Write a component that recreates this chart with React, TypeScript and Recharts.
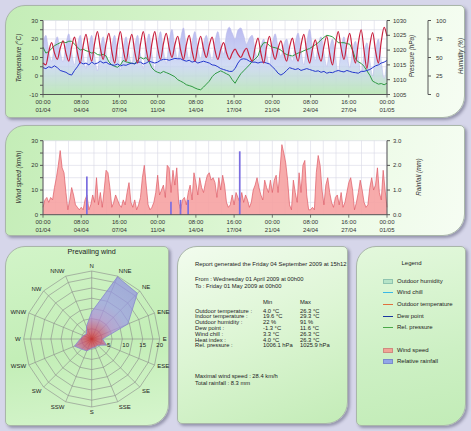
import { ComposedChart, Line, Area, Bar, XAxis, YAxis, CartesianGrid, RadarChart, Radar, PolarGrid, PolarAngleAxis, PolarRadiusAxis } from 'recharts'

const FONT = '"Liberation Sans", Arial, sans-serif'

// 6-hourly readings from 01/04 00:00 to 01/05 00:00 (one row per day: 00h, 06h, 12h, 18h)
const outdoorTemp = [
  7, 6, 13, 18,
  12.5, 9, 15, 19,
  12.4, 8, 15.8, 21,
  12.6, 7, 16.3, 22.5,
  13.8, 8, 17.6, 24,
  15, 9, 17.4, 23,
  13.4, 7, 17.2, 24,
  14.4, 8, 16.7, 22.5,
  13.2, 7, 17.2, 24,
  14.4, 8, 17.6, 24,
  15, 9, 17.4, 23,
  15.2, 10, 16.9, 21.5,
  14, 9, 16.8, 22,
  13.6, 8, 16.1, 21.5,
  14.6, 10, 16.6, 21,
  13.8, 9, 14.4, 18,
  12.6, 9, 12.3, 14.5,
  11.8, 10, 13, 15,
  10.8, 8, 15.5, 20.5,
  12.4, 7, 15.7, 21.5,
  14, 9, 15, 19,
  12.4, 8, 15.5, 20.5,
  13, 8, 16.7, 22.5,
  13.2, 7, 14.5, 19.5,
  12.6, 8, 16.1, 21.5,
  12.2, 6, 16.8, 24,
  15, 9, 17.4, 23,
  13.4, 7, 17.8, 25,
  13.6, 4, 16.5, 23.5,
  13.6, 7, 18.7, 26.3,
  21.5,
]

const dewPoint = [
  4.5, 4, 5, 4.5,
  5.5, 4.5, 3, 2.5,
  2, 1, 0.5, 3,
  5, 7.5, 6.5, 7,
  6, 7.5, 6.5, 7,
  8, 7, 7.5, 6.5,
  6, 5.8, 6.5, 5.5,
  6, 5.8, 6.5, 7,
  6.5, 7.5, 7.5, 6.5,
  7, 8, 7.5, 7,
  7.5, 8.5, 9, 9,
  8.5, 9, 9.5, 9.3,
  9.3, 8.5, 8, 8.5,
  7.5, 8, 7, 7.5,
  8, 7.5, 7, 6,
  5.8, 5, 4, 3.5,
  3, 2.5, 2.5, 4,
  7, 9, 9.3, 9,
  8, 7.5, 7.5, 7,
  7.5, 7.5, 7, 6.5,
  5, 3.5, 1.5, 0.5,
  1.5, 3, 4.5, 4,
  3.5, 4, 3, 3.5,
  4, 3.5, 3, 2.5,
  2.8, 2, 2.5, 1.5,
  2, 1.8, 2.5, 3,
  2.5, 2.2, 3, 2.5,
  2, 1.8, 1.5, 2.5,
  2.5, 3, 3.5, 4.5,
  5.5, 6, 7, 7.5,
  8.4,
]

const relPressure = [
  1021, 1019, 1019.5, 1020.5,
  1021.5, 1022, 1022.5, 1022.8,
  1022.5, 1023, 1023, 1022,
  1021, 1020, 1020.3, 1019.8,
  1019.5, 1019, 1019.2, 1018.5,
  1018.3, 1018.6, 1018, 1016,
  1015, 1014.5, 1014.2, 1015,
  1016.5, 1016, 1015.8, 1015.5,
  1015.4, 1016.5, 1017.6, 1017,
  1017.5, 1016, 1014, 1013,
  1012.5, 1012.2, 1012.8, 1012.4,
  1012, 1011.5, 1011, 1010,
  1009.5, 1009, 1008.3, 1008,
  1007.7, 1007.2, 1006.8, 1006.6,
  1007.5, 1008.5, 1009.5, 1011,
  1012, 1012.5, 1013, 1012.5,
  1012, 1011.5, 1010, 1008.8,
  1010.5, 1012, 1013, 1014,
  1015, 1016.2, 1017, 1018,
  1021, 1022.5, 1022.5, 1021.5,
  1021, 1020.8, 1020.5, 1020,
  1019, 1018.5, 1018.2, 1018,
  1018.5, 1019, 1019.3, 1019.8,
  1020.2, 1020.5, 1021.2, 1021.8,
  1022.5, 1023.5, 1024.3, 1025,
  1024.8, 1024.5, 1023.5, 1022.5,
  1022.5, 1022.5, 1022.2, 1022,
  1020, 1017, 1016, 1015.5,
  1014.5, 1013, 1011.5, 1009.5,
  1009, 1008.5, 1008.7, 1008.3,
  1008.8,
]

const outdoorHumidity = [
  70, 80, 59, 45,
  66, 78, 58, 44,
  68, 82, 57, 40,
  66, 80, 54, 35,
  64, 80, 52, 32,
  62, 78, 55, 40,
  66, 80, 54, 33,
  63, 78, 55, 40,
  66, 80, 54, 35,
  66, 82, 55, 33,
  68, 85, 60, 42,
  72, 88, 64, 48,
  75, 90, 64, 46,
  71, 85, 63, 48,
  69, 80, 60, 46,
  72, 85, 66, 55,
  82, 91, 83, 75,
  87, 90, 80, 68,
  76, 80, 60, 46,
  65, 75, 55, 40,
  68, 82, 64, 52,
  67, 75, 58, 45,
  70, 83, 60, 40,
  70, 88, 64, 46,
  67, 78, 56, 38,
  62, 75, 50, 30,
  62, 78, 54, 36,
  60, 72, 50, 28,
  56, 70, 46, 25,
  58, 75, 45, 22,
  50,
]

// 4-hourly wind speed (km/h), one row per day: 00h 04h 08h 12h 16h 20h
const windSpeed = [
  3, 6, 7, 5, 7, 6,
  11, 15, 20, 26, 19, 17,
  9, 2, 6, 11, 8, 4,
  3, 2, 3, 2, 6, 8,
  2, 4, 8, 5, 15, 4,
  9, 3, 10, 18, 17, 11,
  3, 5, 8, 6, 4, 3,
  6, 4, 9, 13, 5, 3,
  6, 2, 4, 7, 15, 20,
  12, 4, 2, 3, 5, 9,
  16, 8, 10, 12, 7, 20,
  19, 9, 18, 12, 19, 5,
  2, 6, 7, 4, 9, 12,
  6, 17, 13, 8, 15, 11,
  9, 13, 16, 17, 14, 15,
  13, 7, 15, 10, 16, 12,
  5, 3, 4, 8, 4, 9,
  7, 5, 9, 5, 8, 6,
  3, 5, 10, 12, 15, 11,
  8, 6, 14, 11, 9, 14,
  9, 14, 16, 9, 18, 28.4,
  25, 21, 14, 4, 2, 14,
  9, 5, 17, 9, 20, 22,
  8, 2, 2, 3, 2, 17,
  24, 20, 10, 4, 12, 15,
  9, 5, 3, 7, 8, 4,
  9, 3, 5, 9, 13, 15,
  10, 2, 5, 9, 14, 10,
  5, 3, 4, 11, 15, 10,
  12, 19, 9, 6, 18, 10,
  3,
]

const rainHours = [92, 268, 288, 304, 412]
const rainMm = [1.55, 0.53, 0.6, 0.6, 2.57]

const windDirs = ['N', 'NNE', 'NE', 'ENE', 'E', 'ESE', 'SE', 'SSE', 'S', 'SSW', 'SW', 'WSW', 'W', 'WNW', 'NW', 'NNW']
const windFreq = [8, 19.8, 19, 11.5, 3.2, 4.7, 2.6, 2.6, 2.7, 3.8, 4.2, 5.5, 3.4, 2.6, 2.2, 4]
const roseScaleLabels = [5, 10, 15, 20]

const timeTicks = Array.from({ length: 28 }, (_, i) => (i * 80) / 3)
const tempTicks = [-10, -5, 0, 5, 10, 15, 20, 25, 30]
const pressureTicks = [1005, 1010, 1015, 1020, 1025, 1030]
const humidityTicks = [0, 25, 50, 75, 100]
const windTicks = [0, 5, 10, 15, 20, 25, 30]
const rainTicks = [0, 1, 2, 3]

const weatherData = outdoorTemp.map((t, i) => ({
  h: i * 6,
  temp: t,
  dew: dewPoint[i],
  pressure: relPressure[i],
  humidity: outdoorHumidity[i],
}))

const windData = windSpeed.map((w, i) => {
  const h = i * 4
  const r = rainHours.indexOf(h)
  return { h, wind: w, rain: r >= 0 ? rainMm[r] : 0 }
})

const roseData = windDirs.map((d, i) => ({ dir: d, freq: windFreq[i] }))

const reportRows = [
  ['Outdoor temperature :', '4.0 °C', '26.3 °C'],
  ['Indoor temperature :', '19.6 °C', '29.3 °C'],
  ['Outdoor humidity :', '22 %', '91 %'],
  ['Dew point :', '-1.3 °C', '11.6 °C'],
  ['Wind chill :', '3.3 °C', '26.3 °C'],
  ['Heat index :', '4.0 °C', '26.3 °C'],
  ['Rel. pressure :', '1006.1 hPa', '1025.9 hPa'],
]

const ROSE_LEFT = 5
const ROSE_TOP = 246
const ROSE_CX = 86.7
const ROSE_CY = 93
const ROSE_R = 68
const ROSE_MAX = 20

const tickStyle = { fontSize: 6, fill: '#333', fontFamily: FONT }

function pad(n: number) {
  return String(n).padStart(2, '0')
}

function TimeTick(props: any) {
  const { x, y, payload } = props
  const k = payload.value / 80
  if (Math.abs(k - Math.round(k)) > 1e-6) return <g />
  const h = Math.round(payload.value)
  const day = Math.floor(h / 24) + 1
  const date = day > 30 ? `${pad(day - 30)}/05` : `${pad(day)}/04`
  return (
    <g>
      <line x1={x} x2={x} y1={y} y2={y + 3} stroke="#555" strokeWidth={0.8} />
      <text x={x} y={y + 9.5} textAnchor="middle" fontSize={6} fill="#333" fontFamily={FONT}>{`${pad(h % 24)}:00`}</text>
      <text x={x} y={y + 17.5} textAnchor="middle" fontSize={6} fill="#333" fontFamily={FONT}>{date}</text>
    </g>
  )
}

function Panel({ left, top, width, height, bg }: { left: number; top: number; width: number; height: number; bg: string }) {
  return (
    <div
      style={{
        position: 'absolute',
        left,
        top,
        width,
        height,
        background: bg,
        borderRadius: '20px 5px 22px 5px',
        border: '1px solid #a9b6a9',
        boxShadow: '2px 2px 3px rgba(70,70,100,0.45)',
        boxSizing: 'border-box',
      }}
    />
  )
}

function VTitle({ x, y, text }: { x: number; y: number; text: string }) {
  return (
    <div
      style={{
        position: 'absolute',
        left: x,
        top: y,
        transform: 'translate(-50%, -50%) rotate(-90deg)',
        whiteSpace: 'nowrap',
        fontStyle: 'italic',
        fontSize: 6.3,
        color: '#333',
      }}
    >
      {text}
    </div>
  )
}

function Txt({ x, y, children, size = 5.8, center = false }: { x: number; y: number; children: any; size?: number; center?: boolean }) {
  return (
    <div
      style={{
        position: 'absolute',
        left: x,
        top: y,
        fontSize: size,
        lineHeight: `${size + 1}px`,
        whiteSpace: 'nowrap',
        color: '#222',
        transform: center ? 'translateX(-50%)' : undefined,
      }}
    >
      {children}
    </div>
  )
}

function LegendLine({ y, color, label }: { y: number; color: string; label: string }) {
  return (
    <>
      <div style={{ position: 'absolute', left: 383, top: y - 0.5, width: 10, height: 1, background: color }} />
      <Txt x={397} y={y - 3.5} size={6}>{label}</Txt>
    </>
  )
}

function LegendBox({ y, color, border, label }: { y: number; color: string; border: string; label: string }) {
  return (
    <>
      <div style={{ position: 'absolute', left: 383, top: y - 2.5, width: 10, height: 5, background: color, border: `0.5px solid ${border}`, boxSizing: 'border-box' }} />
      <Txt x={397} y={y - 3.5} size={6}>{label}</Txt>
    </>
  )
}

export default function App() {
  return (
    <div
      style={{
        position: 'absolute',
        left: 0,
        top: 0,
        width: 471,
        height: 431,
        overflow: 'hidden',
        background: '#d6d6ea',
        fontFamily: FONT,
      }}
    >
      <Panel left={5} top={5} width={460} height={113} bg="linear-gradient(100deg, #c4edb7 0%, #d9f5cf 45%, #ecfbe6 75%, #f6fdf3 100%)" />
      <Panel left={5} top={125} width={460} height={111} bg="linear-gradient(100deg, #c4edb7 0%, #d9f5cf 45%, #ecfbe6 75%, #f6fdf3 100%)" />
      <Panel left={5} top={246} width={164} height={180} bg="linear-gradient(170deg, #d2f4c8 0%, #c3eeb7 55%, #d6f5cd 100%)" />
      <Panel left={177} top={246} width={171} height={178} bg="linear-gradient(160deg, #f2fcee 0%, #dcf5d3 50%, #c3ecb7 100%)" />
      <Panel left={356} top={246} width={110} height={180} bg="linear-gradient(170deg, #e3f8dc 0%, #cdf0c4 60%, #c2ecb7 100%)" />

      <div style={{ position: 'absolute', left: 0, top: 0 }}>
        <ComposedChart width={471} height={118} data={weatherData} margin={{ top: 20.5, right: 0, bottom: 0, left: 0 }}>
          <defs>
            <linearGradient id="humFill" x1="0" y1="0" x2="0" y2="1">
              <stop offset="0%" stopColor="#aeaeee" stopOpacity={0.85} />
              <stop offset="55%" stopColor="#c6d2f2" stopOpacity={0.8} />
              <stop offset="100%" stopColor="#bce9b6" stopOpacity={0.95} />
            </linearGradient>
          </defs>
          <CartesianGrid fill="#ffffff" stroke="#d8d8e6" strokeWidth={0.6} />
          <XAxis type="number" dataKey="h" domain={[0, 720]} ticks={timeTicks} interval={0} tick={<TimeTick />} tickLine={false} tickSize={0} tickMargin={0} height={23.5} stroke="#555" />
          <YAxis domain={[-10, 30]} ticks={tempTicks} interval={0} width={43} tickSize={3} tickMargin={2} stroke="#555" tick={tickStyle} tickFormatter={(v: number) => (v % 10 === 0 ? String(v) : '')} />
          <YAxis yAxisId="a_press" orientation="right" domain={[1005, 1030]} ticks={pressureTicks} interval={0} width={41} tickSize={3} tickMargin={3} stroke="#555" tick={tickStyle} />
          <YAxis yAxisId="b_hum" orientation="right" domain={[0, 100]} ticks={humidityTicks} interval={0} width={43} tickSize={3} tickMargin={5} stroke="#555" tick={tickStyle} />
          <Area yAxisId="b_hum" type="monotone" dataKey="humidity" fill="url(#humFill)" fillOpacity={1} stroke="#b4b4e6" strokeWidth={0.5} isAnimationActive={false} />
          <Line yAxisId="a_press" type="linear" dataKey="pressure" stroke="#2f9a42" strokeWidth={1} dot={false} isAnimationActive={false} />
          <Line type="linear" dataKey="dew" stroke="#2538cc" strokeWidth={1} dot={false} isAnimationActive={false} />
          <Line type="monotone" dataKey="temp" stroke="#c8203e" strokeWidth={1.2} dot={false} isAnimationActive={false} />
        </ComposedChart>
      </div>

      <div style={{ position: 'absolute', left: 0, top: 120 }}>
        <ComposedChart width={471} height={118} data={windData} margin={{ top: 20.7, right: 0, bottom: 0, left: 0 }}>
          <CartesianGrid fill="#ffffff" stroke="#d8d8e6" strokeWidth={0.6} />
          <XAxis type="number" dataKey="h" domain={[0, 720]} ticks={timeTicks} interval={0} tick={<TimeTick />} tickLine={false} tickSize={0} tickMargin={0} height={23.3} stroke="#555" />
          <YAxis domain={[0, 30]} ticks={windTicks} interval={0} width={43} tickSize={3} tickMargin={2} stroke="#555" tick={tickStyle} tickFormatter={(v: number) => (v % 10 === 0 ? String(v) : '')} />
          <YAxis yAxisId="rain" orientation="right" domain={[0, 3]} ticks={rainTicks} interval={0} width={84} tickSize={3} tickMargin={3} stroke="#555" tick={tickStyle} tickFormatter={(v: number) => v.toFixed(1)} />
          <Area type="linear" dataKey="wind" fill="#f6a2a2" fillOpacity={0.9} stroke="#de5a66" strokeWidth={0.7} isAnimationActive={false} />
          <Bar yAxisId="rain" dataKey="rain" barSize={2} fill="#7b6ee0" isAnimationActive={false} />
        </ComposedChart>
      </div>

      <VTitle x={18} y={58} text="Temperature (°C)" />
      <VTitle x={411} y={56} text="Pressure (hPa)" />
      <VTitle x={460} y={56} text="Humidity (%)" />
      <VTitle x={18} y={177} text="Wind speed (km/h)" />
      <VTitle x={418} y={177} text="Rainfall (mm)" />

      <Txt x={91.7} y={248} size={7.2} center>Prevailing wind</Txt>
      <div style={{ position: 'absolute', left: ROSE_LEFT, top: ROSE_TOP }}>
        <RadarChart width={180} height={180} cx={ROSE_CX} cy={ROSE_CY} outerRadius={ROSE_R} data={roseData} margin={{ top: 0, right: 0, bottom: 0, left: 0 }}>
          <defs>
            <radialGradient id="roseFill" gradientUnits="userSpaceOnUse" cx={ROSE_CX} cy={ROSE_CY} r={ROSE_R}>
              <stop offset="0%" stopColor="#d81818" />
              <stop offset="10%" stopColor="#d04060" />
              <stop offset="32%" stopColor="#b08ad8" />
              <stop offset="55%" stopColor="#9c9ce6" />
              <stop offset="100%" stopColor="#9090e0" />
            </radialGradient>
          </defs>
          <PolarGrid stroke="#8a8a8a" strokeWidth={0.6} />
          <PolarAngleAxis dataKey="dir" tick={{ fontSize: 6, fill: '#222', fontFamily: FONT }} tickLine={false} axisLine={false} tickSize={3} />
          <PolarRadiusAxis angle={0} type="number" domain={[0, ROSE_MAX]} allowDecimals tickCount={9} axisLine={false} tick={false} />
          <Radar dataKey="freq" fill="url(#roseFill)" fillOpacity={0.72} stroke="#8888cc" strokeWidth={0.8} isAnimationActive={false} />
        </RadarChart>
      </div>
      {roseScaleLabels.map((v) => (
        <Txt key={v} x={ROSE_LEFT + ROSE_CX + (v / ROSE_MAX) * ROSE_R} y={ROSE_TOP + ROSE_CY + 3} size={6} center>{v}</Txt>
      ))}

      <div style={{ position: 'absolute', left: 177, top: 246, width: 171, height: 178, overflow: 'hidden' }}>
        <div style={{ position: 'absolute', left: -177, top: -246, width: 471, height: 431 }}>
          <Txt x={195} y={260.5} size={5.9}>Report generated the Friday 04 September 2009 at 15h12</Txt>
          <Txt x={195} y={275.8}>From : Wednesday 01 April 2009 at 00h00</Txt>
          <Txt x={195} y={283.2}>To : Friday 01 May 2009 at 00h00</Txt>
          <Txt x={263} y={299.2}>Min</Txt>
          <Txt x={300} y={299.2}>Max</Txt>
          {reportRows.map((r, i) => (
            <div key={r[0]}>
              <Txt x={195} y={307.5 + i * 5.83}>{r[0]}</Txt>
              <Txt x={263} y={307.5 + i * 5.83}>{r[1]}</Txt>
              <Txt x={300} y={307.5 + i * 5.83}>{r[2]}</Txt>
            </div>
          ))}
          <Txt x={195} y={372.5}>Maximal wind speed : 28.4 km/h</Txt>
          <Txt x={195} y={379.8}>Total rainfall : 8.3 mm</Txt>
        </div>
      </div>

      <Txt x={411.5} y={259.5} size={6} center>Legend</Txt>
      <LegendBox y={281.7} color="#b6e4c8" border="#8fc4b0" label="Outdoor humidity" />
      <LegendLine y={292.7} color="#3ab8e6" label="Wind chill" />
      <LegendLine y={304} color="#e0703e" label="Outdoor temperature" />
      <LegendLine y={316} color="#1a36a0" label="Dew point" />
      <LegendLine y={327.7} color="#4aa84a" label="Rel. pressure" />
      <LegendBox y={350} color="#f0a596" border="#d08a80" label="Wind speed" />
      <LegendBox y={361.7} color="#92a6e8" border="#7a8ccc" label="Relative rainfall" />
    </div>
  )
}
